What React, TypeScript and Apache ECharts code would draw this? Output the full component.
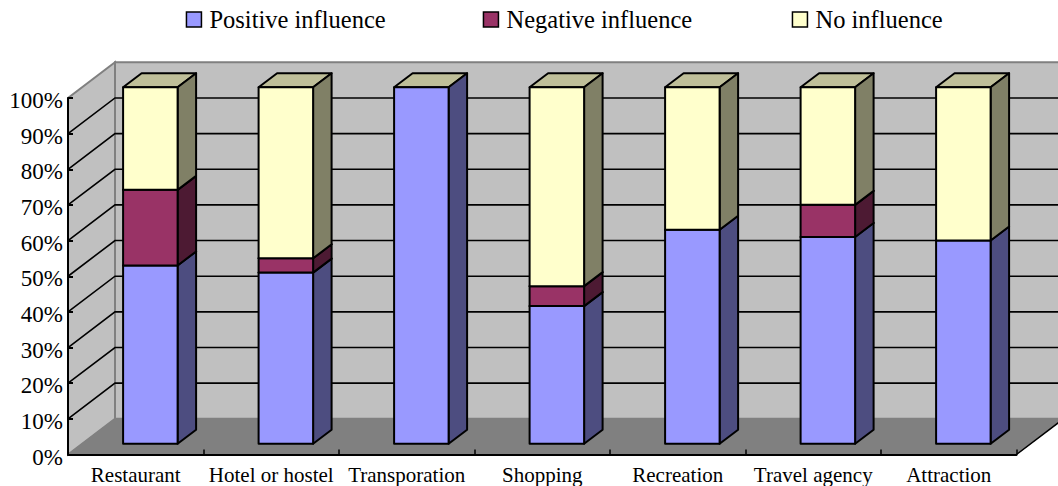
import React, { useEffect, useRef } from "react";
import * as echarts from "echarts";

const categories = ["Restaurant", "Hotel or hostel", "Transporation", "Shopping", "Recreation", "Travel agency", "Attraction"];
const positiveInfluence = [50, 48, 100, 38.6, 60, 58, 57];
const negativeInfluence = [21.2, 4, 0, 5.6, 0, 9, 0];
const noInfluence = [28.8, 48, 0, 55.8, 40, 33, 43];
const yTicks = [0, 10, 20, 30, 40, 50, 60, 70, 80, 90, 100];

const FONT = '"Liberation Serif", "Times New Roman", serif';
const WALL_DX = 47;
const WALL_DY = 35.7;
const BAR_DX = 14.6;
const BAR_DY = 10.8;
const BAR_W = 54.5;
const SIDE_DX = 18.5;
const SIDE_DY = 14;

function stackSeries(name: string, values: number[], below: number[], front: string, side: string) {
  return {
    type: "custom",
    name,
    z: 2,
    itemStyle: { color: front },
    encode: { x: 0, y: [1, 2] },
    data: values.map((v, i) => [i, below[i], below[i] + v]),
    renderItem: (_p: any, api: any) => {
      const base = api.value(1);
      const top = api.value(2);
      if (top - base <= 0) return null;
      const b = api.coord([api.value(0), base]);
      const t = api.coord([api.value(0), top]);
      const x0 = b[0] + BAR_DX - BAR_W / 2;
      const x1 = x0 + BAR_W;
      const yb = b[1] - BAR_DY;
      const yt = t[1] - BAR_DY;
      const line = { stroke: "#000", lineWidth: 2, lineJoin: "round" };
      return {
        type: "group",
        children: [
          {
            type: "polygon",
            shape: { points: [[x0, yt], [x1, yt], [x1 + SIDE_DX, yt - SIDE_DY], [x0 + SIDE_DX, yt - SIDE_DY]] },
            style: { fill: "#BFBF99", ...line },
          },
          {
            type: "polygon",
            shape: { points: [[x1, yb], [x1 + SIDE_DX, yb - SIDE_DY], [x1 + SIDE_DX, yt - SIDE_DY], [x1, yt]] },
            style: { fill: side, ...line },
          },
          {
            type: "rect",
            shape: { x: x0, y: yt, width: BAR_W, height: yb - yt },
            style: { fill: front, ...line },
          },
        ],
      };
    },
  };
}

const wallSeries = {
  type: "custom",
  z: -1,
  silent: true,
  encode: { x: 0, y: 1 },
  data: yTicks.map((t) => [0, t]),
  renderItem: (p: any, api: any) => {
    const g = p.coordSys;
    const tick = api.value(1);
    const left = g.x;
    const right = g.x + g.width;
    const y0 = g.y + g.height;
    const y1 = g.y;
    if (tick === 0) {
      const gray = { stroke: "#808080", lineWidth: 2 };
      return {
        type: "group",
        children: [
          {
            type: "rect",
            shape: { x: left + WALL_DX, y: y1 - WALL_DY, width: g.width, height: g.height },
            style: { fill: "#C0C0C0", ...gray },
          },
          {
            type: "polygon",
            shape: { points: [[left, y0], [left + WALL_DX, y0 - WALL_DY], [left + WALL_DX, y1 - WALL_DY], [left, y1]] },
            style: { fill: "#C0C0C0", ...gray },
          },
          {
            type: "polygon",
            shape: { points: [[left, y0], [left + WALL_DX, y0 - WALL_DY], [right + WALL_DX, y0 - WALL_DY], [right, y0]] },
            style: { fill: "#808080", stroke: "#808080", lineWidth: 1 },
          },
          {
            type: "line",
            shape: { x1: right, y1: y0, x2: right + WALL_DX, y2: y0 - WALL_DY },
            style: { stroke: "#000", lineWidth: 1.5 },
          },
        ],
      };
    }
    if (tick === 100) return null;
    const y = api.coord([0, tick])[1];
    return {
      type: "polyline",
      shape: { points: [[left, y], [left + WALL_DX, y - WALL_DY], [right + WALL_DX, y - WALL_DY]] },
      style: { fill: "none", stroke: "#000", lineWidth: 1.6 },
    };
  },
};

const negBelow = positiveInfluence;
const noBelow = positiveInfluence.map((v, i) => v + negativeInfluence[i]);
const zeros = positiveInfluence.map(() => 0);

function legendAt(name: string, left: number) {
  return {
    data: [name],
    left,
    top: 7,
    padding: 0,
    icon: "rect",
    itemWidth: 15,
    itemHeight: 15,
    itemGap: 0,
    selectedMode: false,
    itemStyle: { borderColor: "#000", borderWidth: 1.5 },
    textStyle: { fontFamily: FONT, fontSize: 24.5, color: "#000", padding: [0, 0, 0, 3] },
  };
}

export default function App() {
  const ref = useRef<HTMLDivElement>(null);
  useEffect(() => {
    const chart = echarts.init(ref.current!, undefined, { renderer: "svg" });
    chart.setOption({
      animation: false,
      backgroundColor: "#fff",
      legend: [
        legendAt("Positive influence", 185.7),
        legendAt("Negative influence", 482.7),
        legendAt("No influence", 791.7),
      ],
      grid: { left: 68, right: 41.5, top: 98, bottom: 31.5 },
      xAxis: {
        type: "category",
        data: categories,
        boundaryGap: true,
        axisLine: { show: true, lineStyle: { color: "#000", width: 2 } },
        axisTick: { show: true, inside: true, length: 5, lineStyle: { color: "#000", width: 1.5 } },
        axisLabel: { color: "#000", fontFamily: FONT, fontSize: 21, margin: 10, interval: 0 },
      },
      yAxis: {
        type: "value",
        min: 0,
        max: 100,
        interval: 10,
        splitLine: { show: false },
        axisLine: { show: true, lineStyle: { color: "#000", width: 2 } },
        axisTick: { show: true, inside: true, length: 5, lineStyle: { color: "#000", width: 2 } },
        axisLabel: { color: "#000", fontFamily: FONT, fontSize: 23, margin: 5, verticalAlign: "top", lineHeight: 5, formatter: "{value}%" },
      },
      series: [
        wallSeries,
        stackSeries("Positive influence", positiveInfluence, zeros, "#9999FF", "#4D4D80"),
        stackSeries("Negative influence", negativeInfluence, negBelow, "#993366", "#4D1A33"),
        stackSeries("No influence", noInfluence, noBelow, "#FFFFCC", "#808066"),
      ],
    });
    return () => chart.dispose();
  }, []);
  return <div ref={ref} style={{ position: "fixed", left: 0, top: 0, width: 1058, height: 486 }} />;
}
